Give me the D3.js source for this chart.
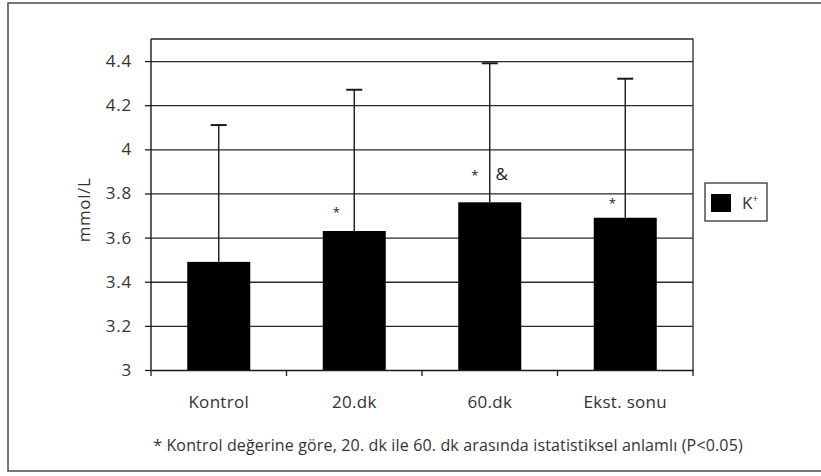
<!DOCTYPE html>
<html>
<head>
<meta charset="utf-8">
<script src="https://cdn.jsdelivr.net/npm/d3@7"></script>
<style>
  html, body { margin: 0; padding: 0; background: #fff; }
  svg { display: block; font-family: "Open Sans", "Noto Sans", sans-serif; }
</style>
</head>
<body>
<svg id="chart" width="821" height="476"></svg>
<script>
// Serum potassium (K+) by sampling time, mean and SD
const categories = ["Kontrol", "20.dk", "60.dk", "Ekst. sonu"];
const meanK = [3.49, 3.63, 3.76, 3.69];
const sdK = [0.62, 0.64, 0.63, 0.63];
const yTicks = [3, 3.2, 3.4, 3.6, 3.8, 4, 4.2, 4.4];
const marks = ["", "*", "*", "*"];
const extraMarks = ["", "", "&", ""];
const seriesName = "K";
const yLabel = "mmol/L";
const footnote = "* Kontrol değerine göre, 20. dk ile 60. dk arasında istatistiksel anlamlı (P<0.05)";

const svg = d3.select("#chart");
const plot = { left: 151, right: 693, top: 39, bottom: 370 };
const ink = "#1a1a1a";
const textInk = "#333";

// Outer frame
svg.append("rect")
  .attr("x", 8).attr("y", 3)
  .attr("width", 840).attr("height", 468)
  .attr("fill", "none").attr("stroke", "#555").attr("stroke-width", 1.6);

const y = d3.scaleLinear().domain([3, 4.5]).range([plot.bottom, plot.top]);
const x = d3.scaleBand().domain(categories)
  .range([plot.left, plot.right])
  .paddingInner(0.535).paddingOuter(0.2675);

// Horizontal gridlines
svg.append("g")
  .attr("transform", `translate(${plot.left},0)`)
  .call(d3.axisLeft(y).tickValues(yTicks.slice(1)).tickSize(-(plot.right - plot.left)).tickFormat(""))
  .call(g => g.select(".domain").remove())
  .call(g => g.selectAll("line").attr("stroke", "#2a2a2a").attr("stroke-width", 1.3));

// Plot border (top and right)
svg.append("path")
  .attr("d", `M${plot.left},${plot.top}H${plot.right}V${plot.bottom}`)
  .attr("fill", "none").attr("stroke", "#2a2a2a").attr("stroke-width", 1.3);

// Bars
const data = categories.map((c, i) => ({ c, m: meanK[i], sd: sdK[i], mk: marks[i], ex: extraMarks[i] }));
svg.append("g").selectAll("rect").data(data).join("rect")
  .attr("x", d => x(d.c))
  .attr("y", d => y(d.m))
  .attr("width", x.bandwidth())
  .attr("height", d => y(3) - y(d.m))
  .attr("fill", "#000");

// Upper error bars
const eb = svg.append("g").attr("stroke", ink).attr("stroke-width", 1.4);
eb.selectAll("line.v").data(data).join("line").attr("class", "v")
  .attr("x1", d => x(d.c) + x.bandwidth() / 2).attr("x2", d => x(d.c) + x.bandwidth() / 2)
  .attr("y1", d => y(d.m)).attr("y2", d => y(d.m + d.sd));
eb.selectAll("line.cap").data(data).join("line").attr("class", "cap")
  .attr("x1", d => x(d.c) + x.bandwidth() / 2 - 8).attr("x2", d => x(d.c) + x.bandwidth() / 2 + 8)
  .attr("y1", d => y(d.m + d.sd)).attr("y2", d => y(d.m + d.sd))
  .attr("stroke-width", 2);

// Significance markers above bars
const markDy = [0, -14, -22, -10];
const markDx = [0, -18, -15, -13];
svg.append("g").selectAll("text").data(data).join("text")
  .attr("x", (d, i) => x(d.c) + x.bandwidth() / 2 + markDx[i])
  .attr("y", (d, i) => y(d.m) + markDy[i])
  .attr("text-anchor", "middle")
  .attr("font-size", 13).attr("fill", ink)
  .text(d => d.mk);
svg.append("g").selectAll("text").data(data).join("text")
  .attr("x", d => x(d.c) + x.bandwidth() / 2 + 12)
  .attr("y", d => y(d.m) - 22)
  .attr("text-anchor", "middle")
  .attr("font-size", 17).attr("fill", ink)
  .text(d => d.ex);

// Y axis
svg.append("g")
  .attr("transform", `translate(${plot.left},0)`)
  .call(d3.axisLeft(y).tickValues(yTicks).tickSize(6).tickPadding(13)
    .tickFormat(d => String(+d.toFixed(1))))
  .call(g => g.select(".domain").attr("stroke", ink).attr("stroke-width", 1.4)
    .attr("d", `M0,${plot.bottom}V${plot.top}`))
  .call(g => g.selectAll(".tick line").attr("stroke", ink).attr("stroke-width", 1.3))
  .call(g => g.selectAll("text").attr("font-size", 17).attr("fill", textInk)
    .attr("letter-spacing", 0.8)
    .attr("font-family", "'Open Sans', sans-serif"));

// X axis: labels under bars, tick marks between categories
const xAxis = svg.append("g")
  .attr("transform", `translate(0,${plot.bottom})`)
  .call(d3.axisBottom(x).tickSize(0).tickPadding(26))
  .call(g => g.select(".domain").attr("stroke", ink).attr("stroke-width", 1.4))
  .call(g => g.selectAll("text").attr("font-size", 17).attr("fill", textInk)
    .attr("letter-spacing", 0.3)
    .attr("font-family", "'Open Sans', sans-serif"));
const step = x.step();
const bounds = categories.map(c => x(c) - step * x.paddingInner() / 2).concat([plot.right]);
xAxis.selectAll("line.sep").data(bounds).join("line").attr("class", "sep")
  .attr("x1", d => d).attr("x2", d => d)
  .attr("y1", 0).attr("y2", 6)
  .attr("stroke", ink).attr("stroke-width", 1.3);

// Y axis title
svg.append("text")
  .attr("transform", `translate(90,210) rotate(-90)`)
  .attr("text-anchor", "middle")
  .attr("font-size", 17).attr("fill", textInk)
  .attr("letter-spacing", 0.6)
  .text(yLabel);

// Legend
const lg = svg.append("g").attr("transform", "translate(705,183)");
lg.append("rect").attr("width", 62).attr("height", 38)
  .attr("fill", "#fff").attr("stroke", "#333").attr("stroke-width", 1.3);
lg.append("rect").attr("x", 6).attr("y", 11).attr("width", 20).attr("height", 18).attr("fill", "#000");
const lt = lg.append("text").attr("x", 37).attr("y", 26).attr("font-size", 17).attr("fill", textInk);
lt.append("tspan").text(seriesName);
lt.append("tspan").attr("dy", -7).attr("font-size", 10).text("+");

// Footnote
svg.append("text")
  .attr("x", 448).attr("y", 451)
  .attr("text-anchor", "middle")
  .attr("font-size", 16).attr("fill", textInk)
  .attr("letter-spacing", 0.15)
  .text(footnote);
</script>
</body>
</html>
